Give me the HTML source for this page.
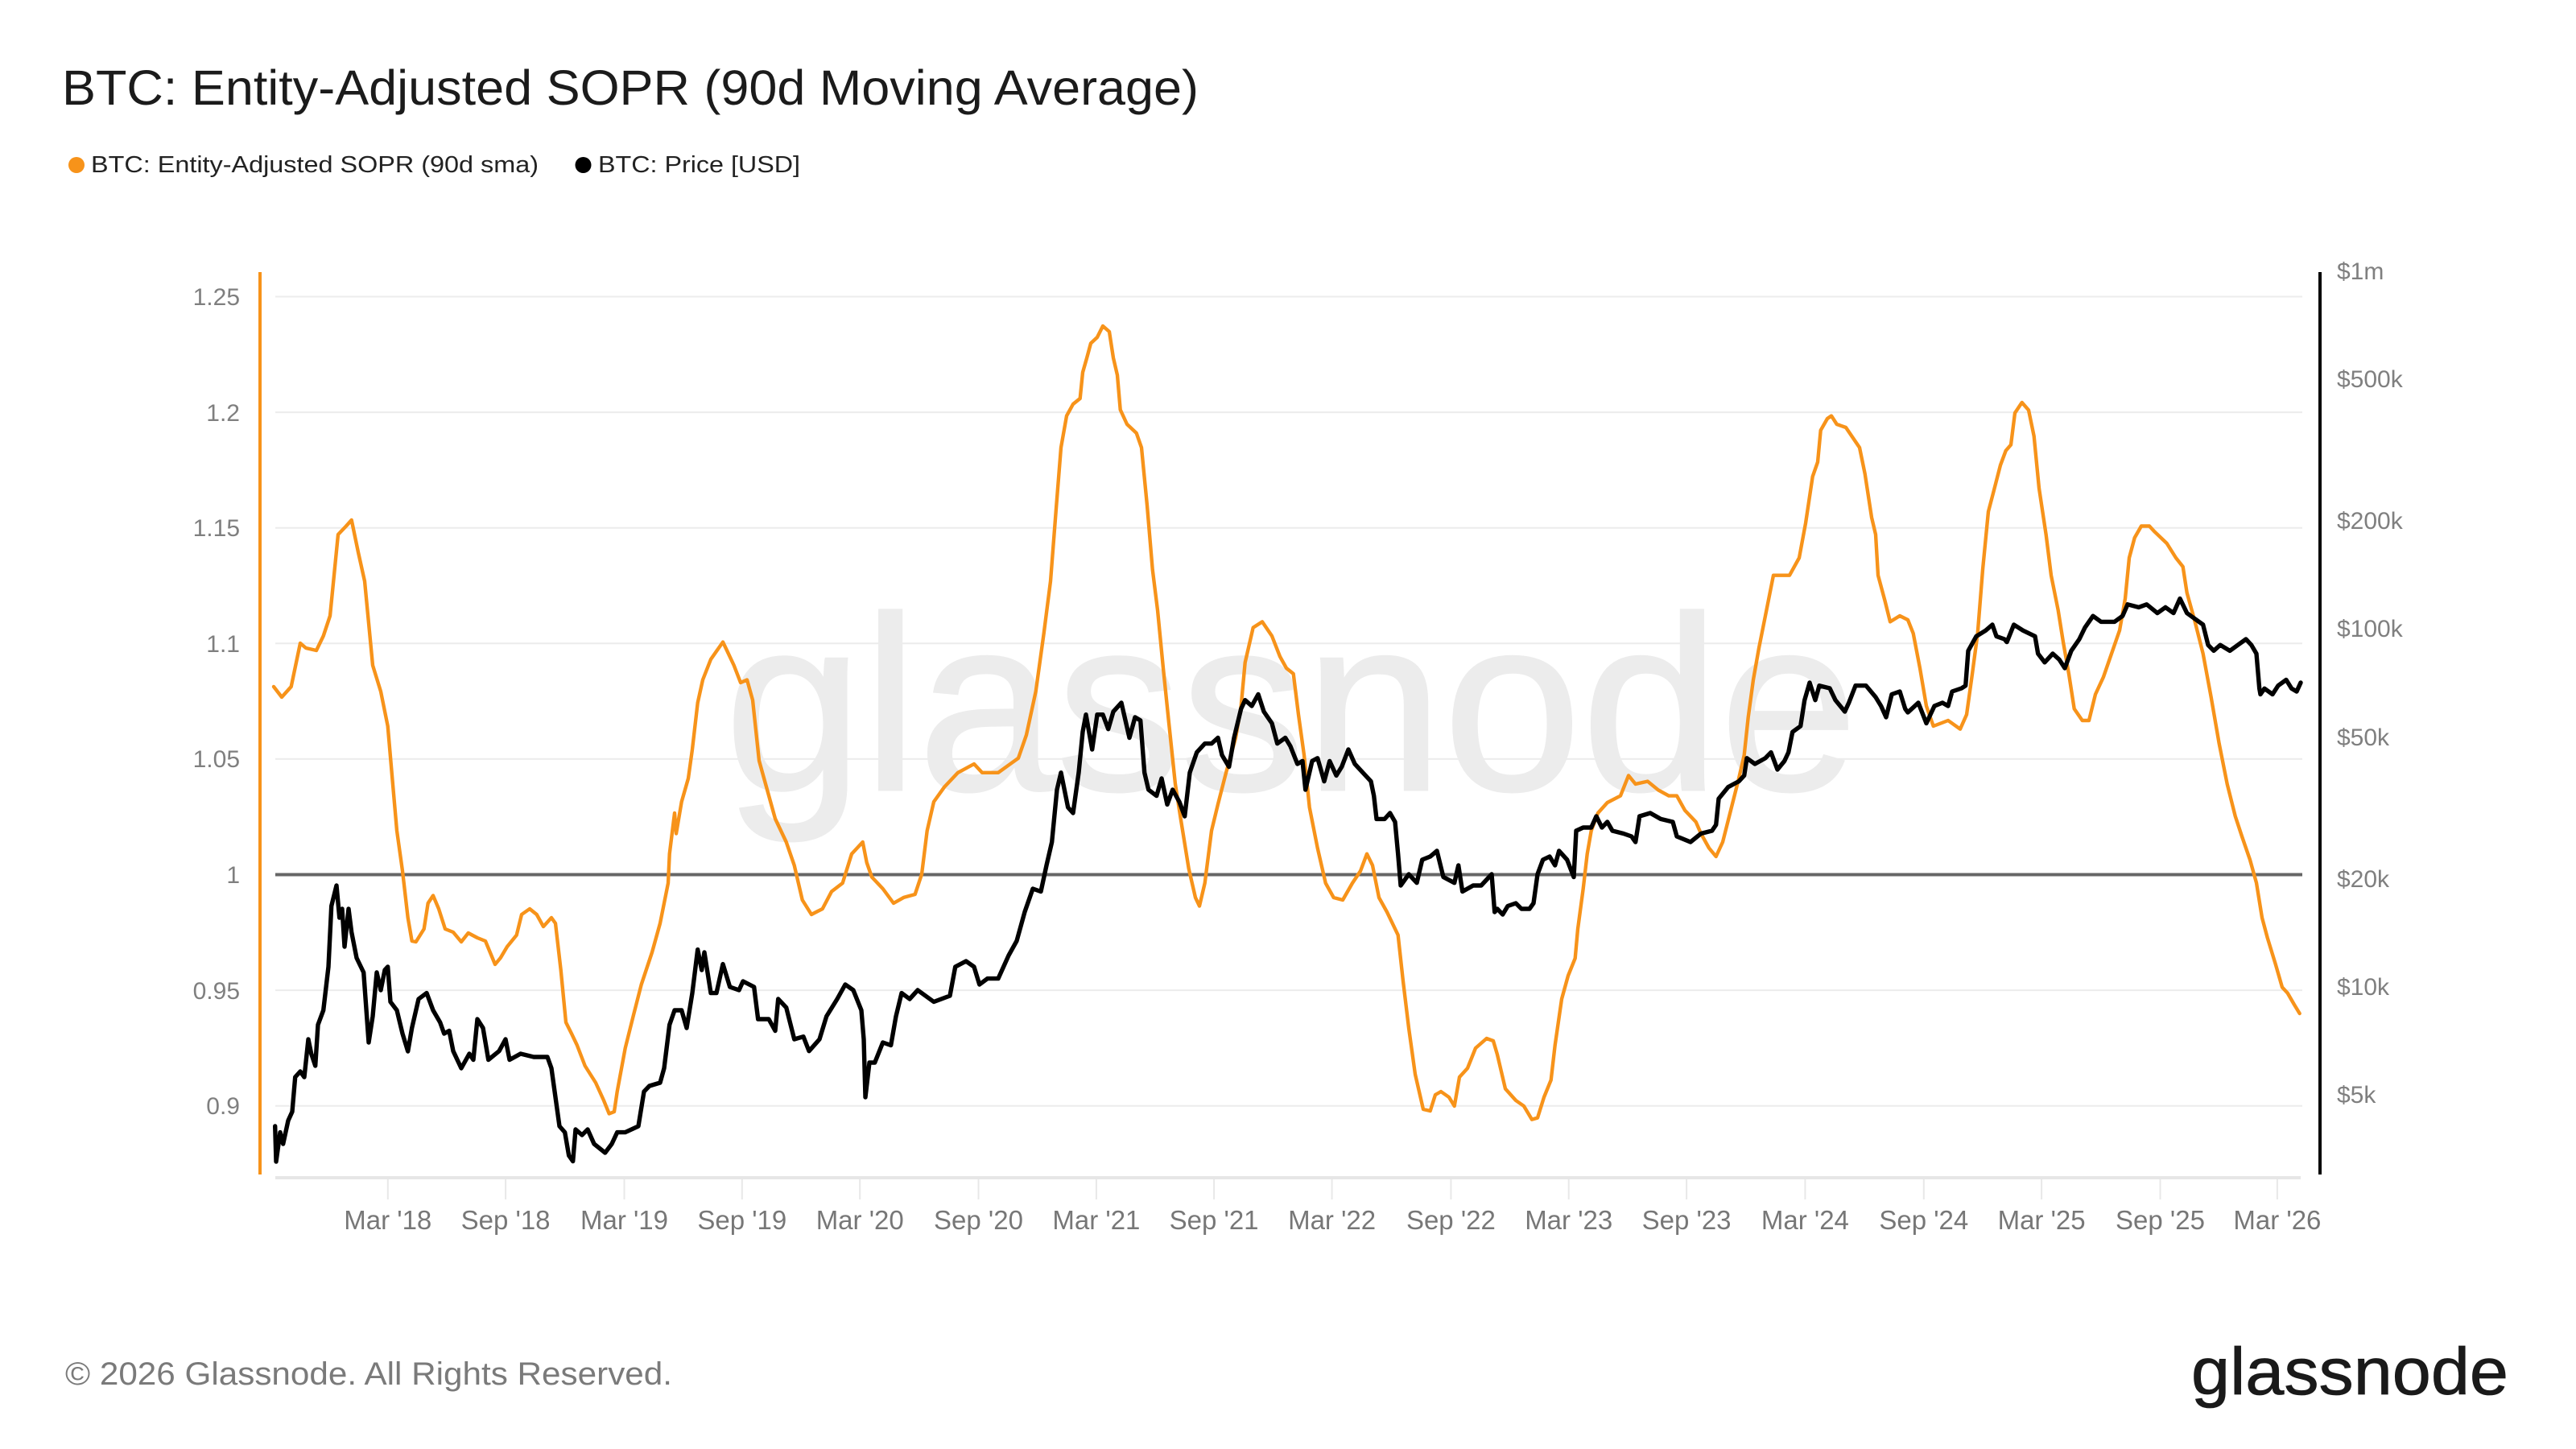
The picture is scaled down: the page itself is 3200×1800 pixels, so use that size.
<!DOCTYPE html>
<html>
<head>
<meta charset="utf-8">
<style>
  html, body { margin: 0; padding: 0; background: #ffffff; }
  svg { display: block; }
  text { font-family: "Liberation Sans", Arial, sans-serif; }
</style>
</head>
<body>
<svg width="3200" height="1800" viewBox="0 0 3200 1800" xmlns="http://www.w3.org/2000/svg">
  <rect x="0" y="0" width="3200" height="1800" fill="#ffffff"/>

  <!-- Title -->
  <text x="77" y="130" font-size="61" fill="#1b1b1b" textLength="1412" lengthAdjust="spacingAndGlyphs">BTC: Entity-Adjusted SOPR (90d Moving Average)</text>

  <!-- Legend -->
  <circle cx="95" cy="205" r="10" fill="#f7931a"/>
  <text x="113" y="214" font-size="29" fill="#222222" textLength="556" lengthAdjust="spacingAndGlyphs">BTC: Entity-Adjusted SOPR (90d sma)</text>
  <circle cx="724.5" cy="205" r="10" fill="#000000"/>
  <text x="743" y="214" font-size="29" fill="#222222" textLength="251" lengthAdjust="spacingAndGlyphs">BTC: Price [USD]</text>

  <!-- Gridlines -->
  <g stroke="#ececec" stroke-width="2">
    <line x1="342" y1="368.5" x2="2860" y2="368.5"/>
    <line x1="342" y1="512.1" x2="2860" y2="512.1"/>
    <line x1="342" y1="655.7" x2="2860" y2="655.7"/>
    <line x1="342" y1="799.3" x2="2860" y2="799.3"/>
    <line x1="342" y1="942.9" x2="2860" y2="942.9"/>
    <line x1="342" y1="1230.1" x2="2860" y2="1230.1"/>
    <line x1="342" y1="1373.7" x2="2860" y2="1373.7"/>
  </g>

  <!-- Watermark -->
  <text x="900" y="981" font-size="308" fill="#ececec" stroke="#ececec" stroke-width="3" textLength="1408" lengthAdjust="spacingAndGlyphs">glassnode</text>

  <!-- X axis line -->
  <line x1="342" y1="1463" x2="2858" y2="1463" stroke="#e6e6e6" stroke-width="4"/>
  <g stroke="#e8e8e8" stroke-width="2">
    <line x1="481.8" y1="1465" x2="481.8" y2="1490"/>
    <line x1="628.1" y1="1465" x2="628.1" y2="1490"/>
    <line x1="775.5" y1="1465" x2="775.5" y2="1490"/>
    <line x1="921.8" y1="1465" x2="921.8" y2="1490"/>
    <line x1="1068.2" y1="1465" x2="1068.2" y2="1490"/>
    <line x1="1215.5" y1="1465" x2="1215.5" y2="1490"/>
    <line x1="1361.9" y1="1465" x2="1361.9" y2="1490"/>
    <line x1="1508.1" y1="1465" x2="1508.1" y2="1490"/>
    <line x1="1654.6" y1="1465" x2="1654.6" y2="1490"/>
    <line x1="1802.4" y1="1465" x2="1802.4" y2="1490"/>
    <line x1="1948.7" y1="1465" x2="1948.7" y2="1490"/>
    <line x1="2095.1" y1="1465" x2="2095.1" y2="1490"/>
    <line x1="2242.4" y1="1465" x2="2242.4" y2="1490"/>
    <line x1="2389.8" y1="1465" x2="2389.8" y2="1490"/>
    <line x1="2536.1" y1="1465" x2="2536.1" y2="1490"/>
    <line x1="2683.5" y1="1465" x2="2683.5" y2="1490"/>
    <line x1="2828.9" y1="1465" x2="2828.9" y2="1490"/>
  </g>

  <!-- X tick labels -->
  <g font-size="33" fill="#777777" text-anchor="middle">
    <text x="481.8" y="1527">Mar '18</text>
    <text x="628.1" y="1527">Sep '18</text>
    <text x="775.5" y="1527">Mar '19</text>
    <text x="921.8" y="1527">Sep '19</text>
    <text x="1068.2" y="1527">Mar '20</text>
    <text x="1215.5" y="1527">Sep '20</text>
    <text x="1361.9" y="1527">Mar '21</text>
    <text x="1508.1" y="1527">Sep '21</text>
    <text x="1654.6" y="1527">Mar '22</text>
    <text x="1802.4" y="1527">Sep '22</text>
    <text x="1948.7" y="1527">Mar '23</text>
    <text x="2095.1" y="1527">Sep '23</text>
    <text x="2242.4" y="1527">Mar '24</text>
    <text x="2389.8" y="1527">Sep '24</text>
    <text x="2536.1" y="1527">Mar '25</text>
    <text x="2683.5" y="1527">Sep '25</text>
    <text x="2828.9" y="1527">Mar '26</text>
  </g>

  <!-- Left axis -->
  <line x1="323" y1="338" x2="323" y2="1459" stroke="#f7931a" stroke-width="4"/>
  <g font-size="30" fill="#7f7f7f" text-anchor="end">
    <text x="298" y="379">1.25</text>
    <text x="298" y="523">1.2</text>
    <text x="298" y="666">1.15</text>
    <text x="298" y="810">1.1</text>
    <text x="298" y="953">1.05</text>
    <text x="298" y="1097">1</text>
    <text x="298" y="1241">0.95</text>
    <text x="298" y="1384">0.9</text>
  </g>

  <!-- Right axis -->
  <line x1="2882" y1="338" x2="2882" y2="1459" stroke="#000000" stroke-width="4"/>
  <g font-size="30" fill="#7f7f7f">
    <text x="2903" y="347">$1m</text>
    <text x="2903" y="481">$500k</text>
    <text x="2903" y="657">$200k</text>
    <text x="2903" y="791">$100k</text>
    <text x="2903" y="926">$50k</text>
    <text x="2903" y="1102">$20k</text>
    <text x="2903" y="1236">$10k</text>
    <text x="2903" y="1370">$5k</text>
  </g>

  <!-- Zero line (1.0) -->
  <line x1="342" y1="1086.5" x2="2860" y2="1086.5" stroke="#666666" stroke-width="4"/>

  <!-- SOPR (orange) -->
  <polyline fill="none" stroke="#f7931a" stroke-width="4.4" stroke-linejoin="round" stroke-linecap="round" points="
340,853 350,866 361.7,853 373,799 380,805 393,808 401.7,790 410,765 420,664 430,653.5 436.7,646 445,686 453,722 463,826.5 473,859 481.7,902 486.7,960 493,1032 500,1082 506.7,1140 511.7,1169 516.7,1170 526.7,1154 531.7,1122 538,1112.5 545,1129 553,1154 563,1158 573,1170 581.7,1159 593,1165 603,1169 615,1198 621.7,1190 630,1176 641.7,1161.6 648,1136 658,1129 666.7,1136 675,1151 685,1140 690,1147 696.7,1205 703,1270 710,1284 716.7,1298 726.7,1324 740,1345 750,1367 756.7,1383.5 763,1381 766.7,1356 776.7,1302 786.7,1262 796.7,1223 810,1183 820,1147 830,1097 831.7,1060.7 838,1010
840,1035.5 846.7,996 855,967 860,931 866.7,873 873,844.5 883,819 898,797.6 903,808 911.7,826.5 920,848 928,844.5 935,869.7 943,945 953,981 963,1017 976.7,1046 986.7,1075 996.7,1118 1008,1136 1021.7,1129 1033,1107.5 1046.7,1097 1058,1060.7 1071.7,1046 1076.7,1071.5 1083,1089.5 1096.7,1104 1110,1122 1123,1114.7 1136.7,1111 1145,1086 1151.7,1032 1160,996 1173,977.8 1190,959.8 1210,949 1220,959.8 1240,959.8 1255,949 1265,941.8 1275,913 1286.7,859 1296.7,786.8 1305,722 1311.7,635.5 1318,556 1325,516.6 1333,502 1341.7,495 1345,462.5
1350,445 1355,426.5 1363,419 1370,405 1378,412 1383,444.5 1388,466 1391.7,509 1400,527 1411.7,538 1418,556 1425,628 1431.7,707.5 1438,758 1445,830 1451.7,895 1460,974 1466.7,1017 1476.7,1079 1485,1115 1490,1125.5 1496.7,1097 1505,1032 1513,999 1523,960 1535,916.5 1541.7,877 1546.7,823 1556.7,779.6 1568,772.4 1580,790 1590,815.6 1598,830 1606.7,837 1613,887.7 1620,938 1626.7,1003 1636.7,1053.5 1646.7,1097 1656.7,1115 1668,1118 1680,1097 1690,1082 1698,1060.7 1705,1075 1713,1115 1723,1133 1736.7,1161.6 1743,1219 1750,1277 1758,1334.5 1768,1378 1776.7,1380 1783,1360 1790,1356 1800,1363 1806.7,1374 1813,1338 1823,1327 1833,1302 1846.7,1290 1855,1293 1860,1310
1870,1352.5 1883,1367 1893,1374 1903,1390.7 1910,1388.6 1918,1363 1926.7,1341.7 1931.7,1298.5 1940,1241 1948,1212 1956.7,1190.4 1960,1154 1966.7,1104 1971.7,1060.7 1976.7,1032 1985,1010 1996.7,997 2013,988.6 2023,963.4 2031.7,974 2046.7,970.6 2060,981.4 2073,988.6 2083,988.6 2093,1006.6 2106.7,1021 2113,1035.5 2123,1053.5 2131.7,1064 2140,1046 2150,1006.6 2160,967 2166.7,938 2171.7,891 2178,844.5 2185,805 2193,765 2203,714.7 2213,714.7 2223,714.7 2235,693 2243,650 2251.7,592 2258,574 2261.7,534.6 2270,520 2275,516.6 2281.7,527 2293,531 2310,556 2316.7,588.6 2325,642.7 2330,664 2333,714.7 2341.7,747 2348,772.4 2360,765 2370,770
2376.7,786.8 2385,830 2393,877 2401.7,902 2420,895 2435,905.7 2443,887.7 2450,837.3 2456.7,786.8 2463,707.5 2470,635.5 2476.7,610 2485,577.8 2491.7,559.8 2498,552.6 2503,513 2511.7,500 2520,509.4 2526.7,541.8 2533,606.6 2541.7,664.3 2548,714.7 2556.7,758 2563,797.6 2570,837.3 2576.7,880.5 2586.7,895 2595,895 2603,862.5 2613,840.9 2623,812 2633,783.2 2640,743.6 2645,693 2651.7,668 2660,653.5 2670,653.5 2676.7,660.7 2691.7,675 2703,693 2711.7,704 2716.7,736.4 2726.7,772.4 2736.7,812 2746.7,866 2756.7,923.7 2766.7,974 2776.7,1013.8 2785,1039 2795,1068 2803,1096.7 2810,1140 2816.7,1165 2826.7,1197.6 2835,1226.4 2841.7,1233.6 2850,1248 2856.7,1259"/>

  <!-- Price (black) -->
  <polyline fill="none" stroke="#000000" stroke-width="5.4" stroke-linejoin="round" stroke-linecap="round" points="
341.7,1399 343,1443 348,1406.6 351.7,1421 358,1392 363,1381 366.7,1338 373,1331 378,1338 383,1291 386.7,1309 391.7,1324 395,1273 401.7,1255 408,1201 411.7,1125.5 418,1100 421.7,1140 425,1129 428,1176 433,1129 436.7,1158 443,1190 451.7,1208 458,1295 463,1262.5 468,1208 473,1230 478,1205 481.7,1201 485,1244.5 493,1255 500,1284 506.7,1306 511.7,1277 520,1241 530,1233.6 538,1255 546.7,1270 551.7,1284 558,1280.5 563,1305.7 573,1327 583,1309 588,1316.5 593,1266 600,1277 606.7,1316.5 620,1305.7 628,1291 633,1316.5 646.7,1309 663,1313 680,1313 685,1327 690,1363 695,1399 701.7,1406.6 706.7,1435.5 711.7,1442.6 715,1403 723,1410 730,1403 738,1421 751.7,1432 760,1421 766.7,1406.6 776.7,1406.6 793,1399 800,1356 806.7,1349 820,1345 825,1327 831.7,1273 838,1255
846.7,1255 853,1277 860,1233.6 866.7,1179.6 871.7,1205 875,1183 883,1233.6 890,1233.6 898,1197.6 906.7,1226 918,1230 923,1219 936.7,1226 941.7,1266 955,1266 963,1280.5 966.7,1241 976.7,1251.6 986.7,1291 998,1287.7 1005,1305.7 1018,1291 1026.7,1262.5 1040,1241 1050,1223 1060,1230 1070,1255 1073,1291 1075,1363 1080,1320 1086.7,1320 1096.7,1295 1106.7,1298.5 1113,1262.5 1120,1233.6 1130,1241 1140,1230 1160,1244.5 1180,1237 1186.7,1201 1200,1194 1210,1201 1216.7,1223 1226.7,1215.6 1240,1215.6 1253,1186.8 1263,1168.8 1273,1132.7 1283,1104 1293,1107.5 1300,1075 1306.7,1046 1313,981 1318,959.8 1326.7,1003 1333,1010 1340,959.8 1345,909 1349,887.7
1356.7,931 1363,887.7 1370,887.7 1376.7,905.7 1383,884 1393,873 1403,916.5 1410,891 1416.7,895 1421.7,959.8 1426.7,981 1436.7,988.6 1443,967 1450,999.4 1456.7,981 1465,996 1471.7,1014 1478,959.8 1486.7,934.6 1496.7,923.7 1505,923.7 1513,916.5 1518,938 1526.7,952.6 1533,916.5 1541.7,880.5 1546.7,869.7 1555,877 1563,862.5 1570,884 1580,898.5 1586.7,923.7 1596.7,916.5 1603,927 1611.7,949 1618,945.4 1621.7,981 1630,945.4 1636.7,941.8 1645,970.6 1651.7,945.4 1660,963.4 1666.7,952.6 1675,931 1683,949 1693,959.8 1703,970.6 1706.7,988.6 1710,1017.4 1720,1017.4 1726.7,1010 1733,1021 1736.7,1060.7 1740,1100 1750,1086 1760,1096.7 1766.7,1068 1776.7,1064 1785,1057 1793,1089.5 1806.7,1096.7 1811.7,1075 1816.7,1107.5 1830,1100 1840,1100 1853,1086 1856.7,1133 1860,1129
1866.7,1136 1873,1125.5 1883,1122 1890,1129 1900,1129 1905,1122 1910,1086 1916.7,1068 1925,1064 1931.7,1075 1936.7,1057 1946.7,1068 1955,1089.5 1958,1032 1966.7,1028 1976.7,1028 1983,1014 1990,1028 1996.7,1021 2003,1032 2016.7,1035.5 2026.7,1039 2031.7,1046 2036.7,1014 2050,1010 2063,1017.4 2078,1021 2083,1039 2100,1046 2113,1035.5 2126.7,1032 2131.7,1024.6 2135,992.2 2146.7,977.8 2160,970.6 2166.7,963.4 2170,941.8 2180,949 2193,941.8 2200,934.6 2208,956 2216.7,945.4 2221.7,934.6 2226.7,909.3 2236.7,902 2241.7,869.7 2248,848 2255,869.7 2260,851.7 2273,855 2280,869.7 2291.7,884 2296.7,873 2305,851.7 2318,851.7 2330,866 2336.7,877 2343,891 2350,862.5 2360,859 2366.7,880.5 2370,885
2383,873 2393,898.5 2403,877 2413,873 2420,877 2425,859 2436.7,855 2441.7,851.7 2445,808.4 2455,790.4 2466.7,783.2 2475,776 2480,790.4 2490,794 2493,797.6 2501.7,776 2513,783.2 2528,790.4 2531.7,812 2540,822.8 2550,812 2558,819.2 2565,830 2573,808.4 2583,794 2590,779.6 2600,765.2 2610,772.4 2616.7,772.4 2626.7,772.4 2636.7,765.2 2643,750.8 2656.7,754.4 2666.7,750.8 2680,761.6 2690,754.4 2700,761.6 2708,743.6 2716.7,761.6 2726.7,768.8 2736.7,776 2743,801.2 2750,808.4 2758,801.2 2770,808.4 2780,801.2 2790,794 2796.7,801.2 2803,812 2806.7,855.3 2808,862.5 2813,855.3 2823,862.5 2830,851.7 2840,844.5 2846.7,855.3 2853,859 2858,848"/>

  <!-- Footer -->
  <text x="81" y="1720" font-size="40" fill="#7a7a7a" textLength="754" lengthAdjust="spacingAndGlyphs">© 2026 Glassnode. All Rights Reserved.</text>
  <text x="2722" y="1732" font-size="83" fill="#1a1a1a" stroke="#1a1a1a" stroke-width="0.8" textLength="394" lengthAdjust="spacingAndGlyphs">glassnode</text>
</svg>
</body>
</html>
